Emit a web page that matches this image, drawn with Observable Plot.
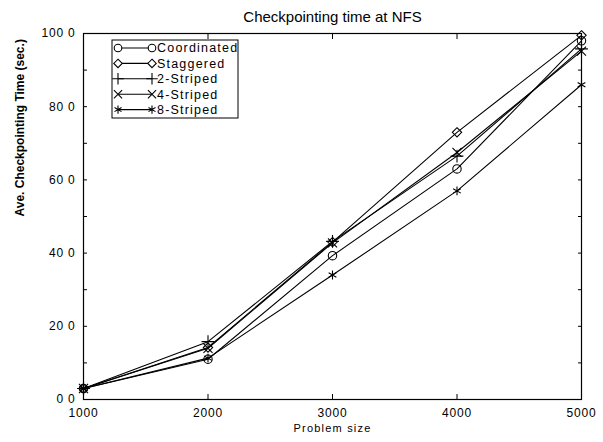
<!DOCTYPE html>
<html><head><meta charset="utf-8">
<script src="https://cdn.jsdelivr.net/npm/d3@7"></script>
<script src="https://cdn.jsdelivr.net/npm/@observablehq/plot@0.6"></script>
<style>
body{margin:0;background:#fff}
#chart svg{font-family:"Liberation Sans",Arial,sans-serif;display:block}
</style>
</head><body><div id="chart"></div>
<script>
// ---- data ----
const problemSizes = [1000, 2000, 3000, 4000, 5000];
const seriesNames = ["Coordinated", "Staggered", "2-Striped", "4-Striped", "8-Striped"];
const coordinated = [30, 110, 393, 630, 980];
const staggered   = [30, 142, 430, 730, 995];
const striped2    = [30, 158, 432, 665, 958];
const striped4    = [30, 140, 428, 675, 952];
const striped8    = [30, 113, 340, 570, 860];
const xTickValues = [1000, 2000, 3000, 4000, 5000];
const yTickValues = [0, 200, 400, 600, 800, 1000];
const yTickLabels = ["0 0", "20 0", "40 0", "60 0", "80 0", "100 0"];
const yMinorTicks = [100, 200, 300, 400, 500, 600, 700, 800, 900];
const titleText = "Checkpointing time at NFS";
const xLabel = "Problem size";
const yLabel = "Ave. Checkpointing Time (sec.)";
const symbolNames = ["circle", "diamond2", "plus", "times", "asterisk"];

const seriesValues = [coordinated, staggered, striped2, striped4, striped8];
const rows = seriesNames.flatMap((name, i) =>
  problemSizes.map((x, j) => ({series: name, x, y: seriesValues[i][j]})));

const chart = Plot.plot({
  width: 603, height: 442,
  marginLeft: 83, marginRight: 22, marginTop: 33, marginBottom: 43,
  style: {fontFamily: "Liberation Sans, Arial, sans-serif", fontSize: "12px", background: "#fff", color: "#000"},
  x: {domain: [1000, 5000]},
  y: {domain: [0, 1000]},
  symbol: {domain: seriesNames, range: symbolNames},
  marks: [
    Plot.frame({stroke: "#000", strokeWidth: 1.2}),
    Plot.axisX({ticks: xTickValues, tickSize: 0, tickPadding: 9, tickFormat: d => String(d), label: null}),
    Plot.axisX({ticks: xTickValues.slice(1, -1), tickSize: 5, insetBottom: 5, tickFormat: () => "", label: null}),
    Plot.axisX({anchor: "top", ticks: xTickValues.slice(1, -1), tickSize: 5, insetTop: 5, tickFormat: () => "", label: null}),
    Plot.axisY({ticks: yTickValues, tickSize: 0, tickPadding: 8, tickFormat: (d, i) => yTickLabels[i], label: null}),
    Plot.axisY({ticks: yMinorTicks, tickSize: 4, insetLeft: 4, tickFormat: () => "", label: null}),
    Plot.axisY({anchor: "right", ticks: yMinorTicks, tickSize: 4, insetRight: 4, tickFormat: () => "", label: null}),
    Plot.text([titleText], {frameAnchor: "top", dy: -22, fontSize: 15, fill: "#000"}),
    Plot.text([xLabel], {frameAnchor: "bottom", dy: 32, fontSize: 11, fill: "#000"}),
    Plot.text([yLabel], {frameAnchor: "left", dx: -63, rotate: -90, fontSize: 12, fontWeight: "bold", fill: "#000"}),
    Plot.line(rows, {x: "x", y: "y", z: "series", stroke: "#000", strokeWidth: 1.1}),
    Plot.dot(rows, {x: "x", y: "y", symbol: "series", r: 4.2, stroke: "#000", fill: "none", strokeWidth: 1.1})
  ]
});

document.getElementById("chart").appendChild(chart);

// letter spacing for x label and tick labels
const svg = d3.select(chart);
svg.selectAll("text").filter(function(){ return this.textContent === xLabel; })
  .attr("letter-spacing", "1.2px");
svg.selectAll("g[aria-label='x-axis tick label'] text, g[aria-label='y-axis tick label'] text")
  .attr("letter-spacing", "0.8px");

// ---- legend (inside plot, top-left) ----
const symbolTypes = {circle: d3.symbolCircle, diamond2: d3.symbolDiamond2, plus: d3.symbolPlus, times: d3.symbolTimes || d3.symbolX, asterisk: d3.symbolAsterisk};
const lg = svg.append("g").attr("transform", "translate(112,40)").attr("text-anchor", "start");
const rowH = 15.4;
lg.append("rect").attr("x", 0).attr("y", 0).attr("width", 126).attr("height", 78)
  .attr("fill", "#fff").attr("stroke", "#000").attr("stroke-width", 1);
seriesNames.forEach((name, i) => {
  const cy = 8 + i * rowH;
  const g = lg.append("g");
  g.append("line").attr("x1", 6).attr("x2", 40).attr("y1", cy).attr("y2", cy)
    .attr("stroke", "#000").attr("stroke-width", 1.1);
  const path = d3.symbol().type(symbolTypes[symbolNames[i]]).size(Math.PI * 3.8 * 3.8)();
  [6, 40].forEach(px => g.append("path").attr("d", path).attr("transform", `translate(${px},${cy})`)
    .attr("fill", "#fff").attr("stroke", "#000").attr("stroke-width", 1.1));
  g.append("text").attr("x", 45).attr("y", cy).attr("dy", "0.35em").attr("font-size", 12.5)
    .attr("text-anchor", "start").attr("letter-spacing", "1.2px").attr("fill", "#000").text(name);
});
</script>
</body></html>
